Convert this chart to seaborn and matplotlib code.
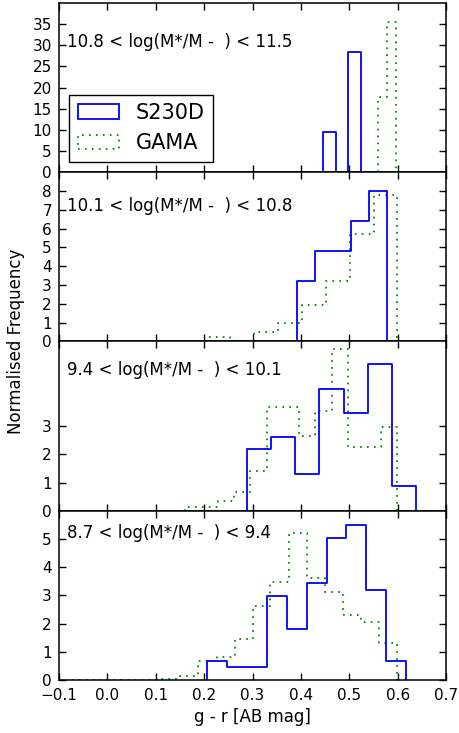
import numpy as np
import matplotlib
matplotlib.use('Agg')
import matplotlib.pyplot as plt
import seaborn as sns
from matplotlib.patches import Patch

# mass bins (top to bottom)
mass_labels = ['10.8 < log(M*/M -  ) < 11.5',
               '10.1 < log(M*/M -  ) < 10.8',
               '9.4 < log(M*/M -  ) < 10.1',
               '8.7 < log(M*/M -  ) < 9.4']

# S230D histograms: bin edges and normalised heights
s230d_edges_1 = [0.446, 0.472, 0.498, 0.524]
s230d_heights_1 = [9.4, 0.0, 28.3]
s230d_edges_2 = [0.392, 0.429, 0.466, 0.503, 0.540, 0.577]
s230d_heights_2 = [3.21, 4.82, 4.82, 6.42, 8.02]
s230d_edges_3 = [0.288, 0.338, 0.388, 0.438, 0.488, 0.538, 0.588, 0.638]
s230d_heights_3 = [2.18, 2.60, 1.29, 4.33, 3.48, 5.19, 0.88]
s230d_edges_4 = [0.206, 0.247, 0.288, 0.330, 0.371, 0.412, 0.453, 0.494, 0.535, 0.576, 0.617]
s230d_heights_4 = [0.67, 0.45, 0.45, 2.98, 1.82, 3.43, 5.04, 5.50, 3.19, 0.67]

# GAMA histograms
gama_edges_1 = [0.559, 0.578, 0.597]
gama_heights_1 = [17.8, 35.5]
gama_edges_2 = [0.205, 0.254, 0.304, 0.353, 0.402, 0.452, 0.501, 0.550, 0.599]
gama_heights_2 = [0.23, 0.0, 0.5, 0.98, 1.95, 3.23, 5.74, 7.77]
gama_edges_3 = [0.160, 0.194, 0.228, 0.261, 0.295, 0.329, 0.363, 0.396, 0.430,
                0.464, 0.498, 0.531, 0.565, 0.599]
gama_heights_3 = [0.13, 0.13, 0.34, 0.68, 1.42, 3.68, 3.68, 2.65, 3.54, 5.74, 2.27, 2.27, 2.98]
gama_edges_4 = [-0.072, -0.035, 0.002, 0.040, 0.077, 0.114, 0.151, 0.188, 0.226, 0.263,
                0.300, 0.337, 0.375, 0.412, 0.449, 0.486, 0.523, 0.561, 0.598]
gama_heights_4 = [0.01, 0.01, 0.01, 0.01, 0.01, 0.04, 0.15, 0.67, 0.8, 1.45, 2.63, 3.49,
                  5.2, 3.63, 3.13, 2.3, 2.07, 1.3]

x_ticks = [-0.1, 0.0, 0.1, 0.2, 0.3, 0.4, 0.5, 0.6, 0.7]
x_tick_labels = ['\u22120.1', '0.0', '0.1', '0.2', '0.3', '0.4', '0.5', '0.6', '0.7']
y_max = [40, 9, 6, 6]
y_ticks = [[0, 5, 10, 15, 20, 25, 30, 35], [0, 1, 2, 3, 4, 5, 6, 7, 8], [0, 1, 2, 3],
           [0, 1, 2, 3, 4, 5]]

sns.set_style('ticks')
plt.rcParams['font.family'] = ['DejaVu Sans']
plt.rcParams.update({
    'xtick.direction': 'in', 'ytick.direction': 'in',
    'xtick.top': True, 'ytick.right': True,
    'xtick.major.size': 4.8, 'ytick.major.size': 4.8,
    'xtick.major.width': 1.0, 'ytick.major.width': 1.0,
    'xtick.major.pad': 5.5, 'ytick.major.pad': 5,
    'xtick.labelsize': 11, 'ytick.labelsize': 11,
    'xtick.color': 'black', 'ytick.color': 'black',
    'text.color': 'black', 'axes.labelcolor': 'black',
    'axes.linewidth': 1.1, 'axes.edgecolor': 'black',
    'lines.scale_dashes': False,
})

BLUE = (0, 0, 1)
GREEN = (0, 0.5, 0)
DOTS = (0, (1.2, 3.8))


def step_hist(ax, edges, heights, **kw):
    edges = np.asarray(edges)
    heights = np.asarray(heights)
    # tiny empty bins at both ends so the outline drops to zero
    e = np.concatenate([[edges[0] - 1e-4], edges, [edges[-1] + 1e-4]])
    h = np.concatenate([[0.0], heights, [0.0]])
    centres = (e[:-1] + e[1:]) / 2
    sns.histplot(x=centres, weights=h, bins=e.tolist(), element='step', fill=False,
                 ax=ax, **kw)


s230d = [(s230d_edges_1, s230d_heights_1), (s230d_edges_2, s230d_heights_2),
         (s230d_edges_3, s230d_heights_3), (s230d_edges_4, s230d_heights_4)]
gama = [(gama_edges_1, gama_heights_1), (gama_edges_2, gama_heights_2),
        (gama_edges_3, gama_heights_3), (gama_edges_4, gama_heights_4)]
text_y = [0.739, 0.772, 0.804, 0.836]

fig, axes = plt.subplots(4, 1, sharex=True, figsize=(4.6, 7.33), dpi=100)
fig.subplots_adjust(left=0.128, right=0.970, top=0.996, bottom=0.0723, hspace=0)

for i, ax in enumerate(axes):
    step_hist(ax, *gama[i], color=GREEN, linestyle=DOTS, linewidth=1.3)
    step_hist(ax, *s230d[i], color=BLUE, linewidth=1.3)
    ax.set_xlim(-0.1, 0.7)
    ax.set_ylim(0, y_max[i])
    ax.set_yticks(y_ticks[i])
    ax.set_xticks(x_ticks)
    ax.set_ylabel('')
    ax.text(0.022, text_y[i], mass_labels[i], transform=ax.transAxes, fontsize=12)
    for s in ax.spines.values():
        s.set_visible(True)

axes[-1].set_xticklabels(x_tick_labels)
axes[-1].set_xlabel('g - r [AB mag]', fontsize=12)
fig.text(0.035, 0.534, 'Normalised Frequency', rotation=90, va='center', ha='center', fontsize=12)

handles = [Patch(facecolor='none', edgecolor=BLUE, linewidth=1.3, label='S230D'),
           Patch(facecolor='none', edgecolor=GREEN, linewidth=1.3, linestyle=DOTS, label='GAMA')]
leg = axes[0].legend(handles=handles, loc='lower left', fontsize=15, frameon=True,
                     fancybox=False, framealpha=1, edgecolor='black', borderaxespad=0.5)
leg.get_frame().set_linewidth(1.0)

fig.savefig('out.png', dpi=100)
